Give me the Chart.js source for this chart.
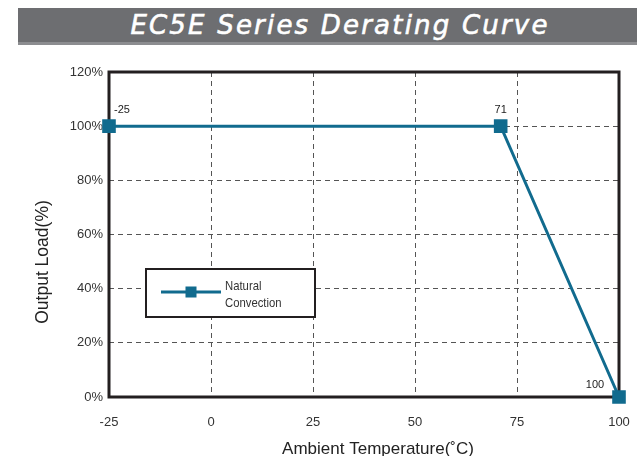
<!DOCTYPE html>
<html>
<head>
<meta charset="utf-8">
<script src="https://cdn.jsdelivr.net/npm/chart.js@4"></script>
<style>
  html, body { margin: 0; padding: 0; background: #fff; overflow: hidden; }
  #wrap { position: relative; width: 637px; height: 456px; }
  #banner { position: absolute; left: 18px; top: 8px; width: 619px; height: 34px; background: #6d6e71; border-bottom: 3px solid #8c8d90; }
  #banner span { position: absolute; left: 0; width: 644px; top: 0; line-height: 35px; text-align: center;
    color: #fff; font-family: "DejaVu Sans", sans-serif; font-style: italic; font-weight: normal; font-size: 26px;
    letter-spacing: 2.2px; -webkit-text-stroke: 0.6px #fff; white-space: nowrap; }
  canvas { position: absolute; left: 0; top: 0; }
</style>
</head>
<body>
<div id="wrap">
  <canvas id="c" width="637" height="456"></canvas>
  <div id="banner"><span>EC5E Series Derating Curve</span></div>
</div>
<script>
const chartTitle = "EC5E Series Derating Curve";
const seriesName = ["Natural", "Convection"];
const temps = [-25, 71, 100];
const loads = [100, 100, 0];
const pointLabels = ["-25", "71", "100"];
const xTicks = [-25, 0, 25, 50, 75, 100];
const yTicks = [0, 20, 40, 60, 80, 100, 120];
const xTitle = "Ambient Temperature(\u02DAC)";
const yTitle = "Output Load(%)";

const lineColor = "#116b8e";
const tickFont = { family: "'Liberation Sans', Arial, sans-serif", size: 13 };

const framePlugin = {
  id: 'frame',
  beforeDatasetsDraw(chart) {
    const { ctx, chartArea: a } = chart;
    ctx.save();
    ctx.strokeStyle = '#231f20';
    ctx.lineWidth = 3;
    ctx.strokeRect(a.left, a.top, a.right - a.left, a.bottom - a.top);
    ctx.restore();
  }
};

const labelPlugin = {
  id: 'ptlabels',
  afterDatasetsDraw(chart) {
    const { ctx } = chart;
    const meta = chart.getDatasetMeta(0);
    const offs = [[13, -16], [0, -16], [-24, -12]];
    ctx.save();
    ctx.fillStyle = '#222';
    ctx.font = "11px 'Liberation Sans', Arial, sans-serif";
    ctx.textAlign = 'center';
    ctx.textBaseline = 'middle';
    meta.data.forEach((pt, i) => {
      ctx.fillText(pointLabels[i], pt.x + offs[i][0], pt.y + offs[i][1]);
    });
    ctx.restore();
  }
};

const axisTitlePlugin = {
  id: 'axistitles',
  afterDraw(chart) {
    const { ctx } = chart;
    ctx.save();
    ctx.fillStyle = '#222';
    ctx.textAlign = 'center';
    ctx.textBaseline = 'middle';
    ctx.font = "17px 'Liberation Sans', Arial, sans-serif";
    ctx.fillText(xTitle, 378, 449);
    ctx.translate(43, 262);
    ctx.rotate(-Math.PI / 2);
    ctx.font = "17.5px 'Liberation Sans', Arial, sans-serif";
    ctx.fillText(yTitle, 0, 0);
    ctx.restore();
  }
};

const legendPlugin = {
  id: 'boxlegend',
  afterDraw(chart) {
    const { ctx } = chart;
    ctx.save();
    ctx.strokeStyle = '#231f20';
    ctx.lineWidth = 2;
    ctx.fillStyle = '#fff';
    ctx.fillRect(146, 269, 169, 48);
    ctx.strokeRect(146, 269, 169, 48);
    ctx.strokeStyle = lineColor;
    ctx.lineWidth = 3;
    ctx.beginPath();
    ctx.moveTo(161, 292);
    ctx.lineTo(221, 292);
    ctx.stroke();
    ctx.fillStyle = lineColor;
    ctx.fillRect(185.5, 286.5, 11, 11);
    ctx.fillStyle = '#333';
    ctx.font = "13px 'Liberation Sans', Arial, sans-serif";
    ctx.textAlign = 'left';
    ctx.textBaseline = 'middle';
    ctx.translate(225, 0);
    ctx.scale(0.87, 1);
    ctx.fillText(seriesName[0], 0, 286);
    ctx.fillText(seriesName[1], 0, 303);
    ctx.restore();
  }
};

new Chart(document.getElementById('c'), {
  type: 'line',
  data: {
    datasets: [{
      label: seriesName.join(' '),
      data: temps.map((t, i) => ({ x: t, y: loads[i] })),
      borderColor: lineColor,
      backgroundColor: lineColor,
      borderWidth: 3,
      pointStyle: 'rect',
      pointRadius: 7.5,
      pointHoverRadius: 7.5,
      tension: 0,
      clip: false
    }]
  },
  options: {
    responsive: false,
    animation: false,
    events: [],
    layout: { autoPadding: false, padding: { top: 72, right: 18, left: 0, bottom: 0 } },
    plugins: { legend: { display: false }, tooltip: { enabled: false } },
    scales: {
      x: {
        type: 'linear',
        min: -25, max: 100,
        afterBuildTicks(s) { s.ticks = xTicks.map(v => ({ value: v })); },
        afterFit(s) { s.height = 59; },
        ticks: { color: '#333', font: tickFont, padding: 0, callback: v => String(v) },
        grid: { color: '#555', lineWidth: 1, drawTicks: true, tickLength: 18, tickColor: 'rgba(0,0,0,0)' },
        border: { display: false, dash: [5, 4] },
        title: { display: false }
      },
      y: {
        min: 0, max: 120,
        afterBuildTicks(s) { s.ticks = yTicks.map(v => ({ value: v })); },
        afterFit(s) { s.width = 109; },
        ticks: { color: '#333', font: tickFont, padding: 6, callback: v => v + '%' },
        grid: { color: '#555', lineWidth: 1, drawTicks: false },
        border: { display: false, dash: [5, 4] },
        title: { display: false }
      }
    }
  },
  plugins: [framePlugin, labelPlugin, axisTitlePlugin, legendPlugin]
});
</script>
</body>
</html>
